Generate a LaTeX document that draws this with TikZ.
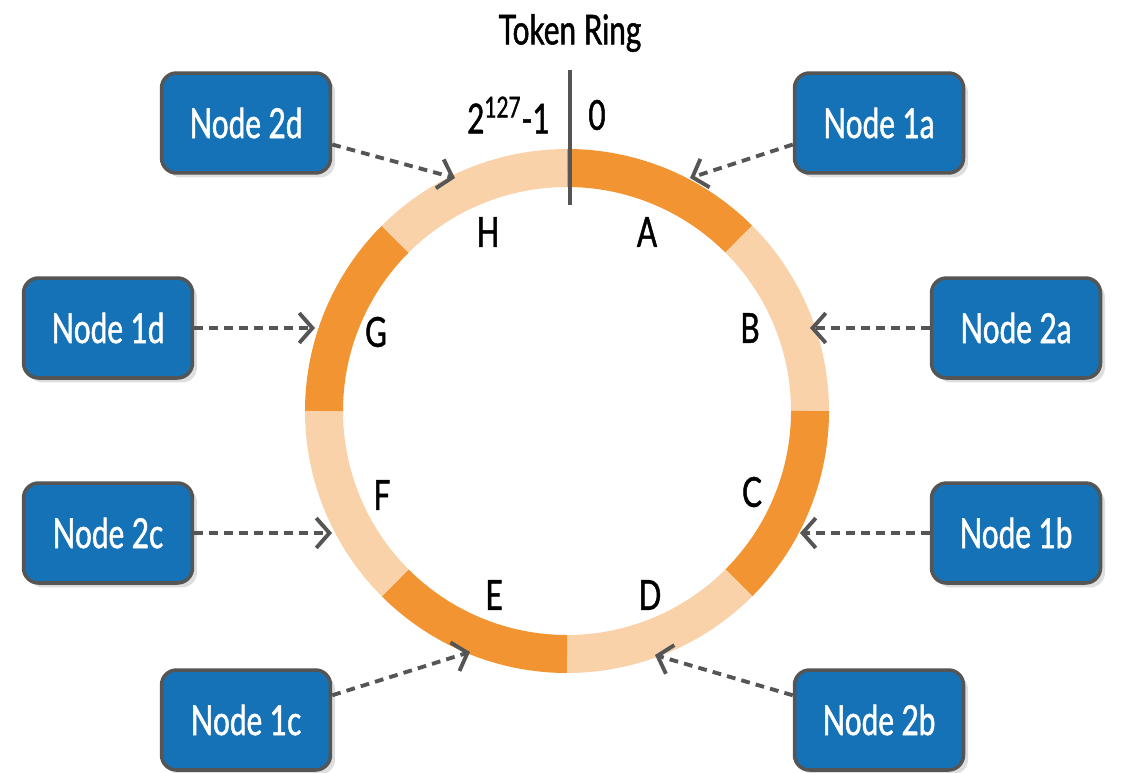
\documentclass[tikz,border=0pt]{standalone}
\usepackage{fontspec}
\setmainfont[FakeStretch=0.72, FakeBold=1.2]{Lato}
\usetikzlibrary{arrows.meta,shadows}

\definecolor{ringdark}{HTML}{F39433}
\definecolor{ringlight}{HTML}{FAD2A9}
\definecolor{nodeblue}{HTML}{1672B7}
\definecolor{edgegray}{HTML}{555555}

\tikzset{
  vnode/.style = {rectangle, draw = edgegray, line width = 2pt, fill = nodeblue,
    rounded corners = .3cm, minimum width = 3.38cm, minimum height = 2cm,
    text = white, font = \fontsize{23.5}{27}\selectfont,
    drop shadow = {shadow xshift = .09cm, shadow yshift = -.09cm, fill = black!13, opacity = 1}},
  seglabel/.style = {font = \fontsize{23.5}{27}\selectfont},
  ringarrow/.style = {draw = edgegray, line width = 2.2pt, dash pattern = on 5pt off 3.5pt,
    -{Straight Barb[length = 7.5pt, width = 17pt]}}
}

\begin{document}
\begin{tikzpicture}
    [x = .02cm, y = .02cm]
    \useasboundingbox (0,0) rectangle (1121,772);

    % ring segments
    \foreach \a/\col in {90/ringdark, 45/ringlight, 0/ringdark, -45/ringlight,
                         -90/ringdark, -135/ringlight, 180/ringdark, 135/ringlight}
      \draw[line width = .76cm, \col] (567,361) ++(\a:243) arc[start angle = \a, delta angle = -45, radius = 4.86cm];

    \draw[edgegray, line width = 1.8pt] (570,702) -- (570,567);

    \node[seglabel] (title) at (570,739) {Token Ring};
    \node[seglabel, anchor = east] (tmax) at (556,657) {2\textsuperscript{127}-1};
    \node[seglabel] (tzero) at (597,657) {0};

    \node[seglabel] (sA) at (647,540) {A};
    \node[seglabel] (sB) at (750,444) {B};
    \node[seglabel] (sC) at (752,280) {C};
    \node[seglabel] (sD) at (650,177) {D};
    \node[seglabel] (sE) at (494,177) {E};
    \node[seglabel] (sF) at (382,277) {F};
    \node[seglabel] (sG) at (376,440) {G};
    \node[seglabel] (sH) at (488,540) {H};

    \node[vnode] (n1a) at (879,649) {Node 1a};
    \node[vnode] (n2a) at (1016,444) {Node 2a};
    \node[vnode] (n1b) at (1016,239) {Node 1b};
    \node[vnode] (n2b) at (879,52) {Node 2b};
    \node[vnode] (n1c) at (246,52) {Node 1c};
    \node[vnode] (n2c) at (108,239) {Node 2c};
    \node[vnode] (n1d) at (108,444) {Node 1d};
    \node[vnode] (n2d) at (246,649) {Node 2d};

    \coordinate (t1a) at (690,594);
    \coordinate (t2a) at (810,444);
    \coordinate (t1b) at (800,239);
    \coordinate (t2b) at (655,117);
    \coordinate (t1c) at (470,120);
    \coordinate (t2c) at (332,239);
    \coordinate (t1d) at (315,444);
    \coordinate (t2d) at (455,594);

    \foreach \from/\to in {n1a.194/t1a, n2a/t2a, n1b/t1b, n2b.164/t2b,
                           n1c.16/t1c, n2c/t2c, n1d/t1d, n2d.-14/t2d}
      \draw[ringarrow] (\from) -- (\to);
\end{tikzpicture}
\end{document}
